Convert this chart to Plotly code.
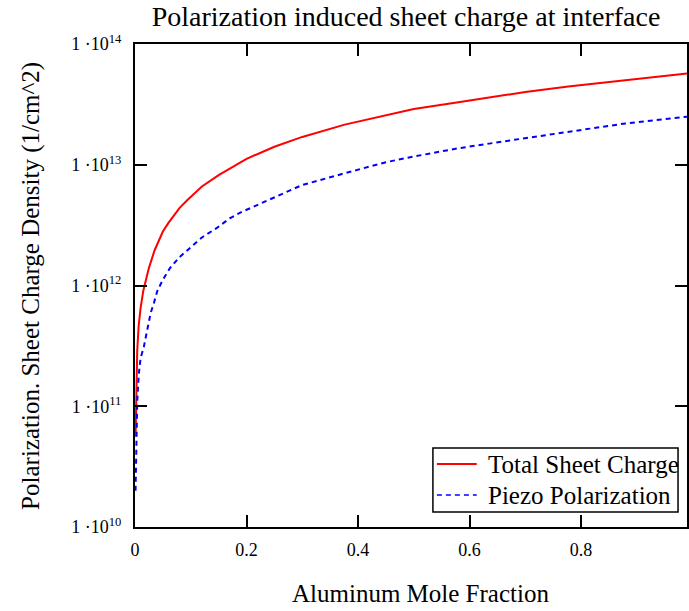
import plotly.graph_objects as go

# Aluminum mole fraction sample points and sheet charge densities (1/cm^2)
x_total = [0.001, 0.002, 0.004, 0.0065, 0.01, 0.015, 0.025, 0.035, 0.05, 0.06,
           0.07, 0.08, 0.094, 0.12, 0.15, 0.17, 0.2, 0.25, 0.3, 0.376,
           0.45, 0.5, 0.58, 0.65, 0.7, 0.777, 0.88, 0.99]
total_charge = [5.6e10, 1.1e11, 2.9e11, 4.6e11, 6.5e11, 9.1e11, 1.4e12, 1.95e12, 2.8e12, 3.3e12,
                3.8e12, 4.4e12, 5.1e12, 6.6e12, 8.2e12, 9.3e12, 1.12e13, 1.41e13, 1.7e13, 2.15e13,
                2.58e13, 2.9e13, 3.3e13, 3.7e13, 4.0e13, 4.45e13, 5.05e13, 5.7e13]

x_piezo = [0.001, 0.002, 0.004, 0.0068, 0.01, 0.0158, 0.028, 0.034, 0.04, 0.05,
           0.063, 0.08, 0.099, 0.12, 0.147, 0.17, 0.188, 0.25, 0.3, 0.376,
           0.45, 0.5, 0.58, 0.677, 0.777, 0.88, 0.99]
piezo_charge = [2.0e10, 5.2e10, 1.1e11, 1.85e11, 2.5e11, 3.1e11, 5.9e11, 7.2e11, 9.0e11, 1.12e12,
                1.4e12, 1.72e12, 2.05e12, 2.5e12, 3.0e12, 3.6e12, 4.0e12, 5.4e12, 6.8e12, 8.5e12,
                1.05e13, 1.17e13, 1.37e13, 1.6e13, 1.88e13, 2.2e13, 2.5e13]

x_ticks = [0, 0.2, 0.4, 0.6, 0.8]
x_tick_text = ["0", "0.2", "0.4", "0.6", "0.8"]
y_ticks = [1e10, 1e11, 1e12, 1e13, 1e14]
y_tick_text = ["1 \u00b710<sup>10</sup>", "1 \u00b710<sup>11</sup>", "1 \u00b710<sup>12</sup>",
               "1 \u00b710<sup>13</sup>", "1 \u00b710<sup>14</sup>"]
series_names = ["Total Sheet Charge", "Piezo Polarization"]
series_colors = ["#ff0000", "#0000ff"]
series_dashes = ["solid", "5px,4px"]

FONT = "Liberation Serif, Times New Roman, serif"

# plot-area geometry in pixels
W, H = 689, 611
L, R, T, B = 135, 0, 44, 84
PW, PH = W - L - R, H - T - B


def px(xpix):
    """Horizontal pixel -> paper coordinate."""
    return (xpix - L) / PW


def py(ypix):
    """Vertical pixel (from top) -> paper coordinate."""
    return (H - B - ypix) / PH


fig = go.Figure()
fig.add_trace(go.Scatter(
    x=x_total, y=total_charge, mode="lines", name=series_names[0], showlegend=False,
    line=dict(color=series_colors[0], width=2, dash=series_dashes[0]),
))
fig.add_trace(go.Scatter(
    x=x_piezo, y=piezo_charge, mode="lines", name=series_names[1], showlegend=False,
    line=dict(color=series_colors[1], width=2, dash=series_dashes[1]),
))

axis_common = dict(
    showline=True, linecolor="black", linewidth=2, mirror="ticks",
    ticks="inside", ticklen=12, tickwidth=1.5, tickcolor="black",
    showgrid=False, zeroline=False,
    tickfont=dict(family=FONT, size=18, color="black"),
)

# boxed legend
shapes = [dict(type="rect", xref="paper", yref="paper",
               x0=px(434), x1=px(680), y0=py(512), y1=py(448),
               line=dict(color="black", width=1.5), fillcolor="white", layer="above")]
annotations = []
for i, (name, color, dash) in enumerate(zip(series_names, series_colors, series_dashes)):
    yrow = 464 + 31 * i
    shapes.append(dict(type="line", xref="paper", yref="paper",
                       x0=px(438), x1=px(478), y0=py(yrow), y1=py(yrow),
                       line=dict(color=color, width=2 if i == 0 else 1.5, dash=dash),
                       layer="above"))
    annotations.append(dict(text=name, xref="paper", yref="paper",
                            x=px(487), y=py(yrow), xanchor="left", yanchor="middle",
                            showarrow=False, font=dict(family=FONT, size=25, color="black")))

annotations += [
    dict(text="Aluminum Mole Fraction", xref="paper", yref="paper",
         x=px(422), y=py(593), xanchor="center", yanchor="middle",
         showarrow=False, font=dict(family=FONT, size=25, color="black")),
    dict(text="Polarization. Sheet Charge Density (1/cm^2)", xref="paper", yref="paper",
         x=px(30), y=0.5, xanchor="center", yanchor="middle", textangle=-90,
         showarrow=False, font=dict(family=FONT, size=25, color="black")),
]

fig.update_layout(
    width=W, height=H,
    margin=dict(l=L, r=R, t=T, b=B),
    paper_bgcolor="white", plot_bgcolor="white",
    font=dict(family=FONT, color="black"),
    title=dict(
        text="Polarization induced sheet charge at interface",
        font=dict(family=FONT, size=28, color="black"),
        x=px(407), xanchor="center", xref="paper",
        y=1 - 16 / H, yanchor="middle", yref="container",
    ),
    xaxis=dict(range=[0, 0.99], tickvals=x_ticks, ticktext=x_tick_text,
               ticklabelstandoff=5, **axis_common),
    yaxis=dict(type="log", range=[10, 14], tickvals=y_ticks, ticktext=y_tick_text,
               ticklabelstandoff=8, **axis_common),
    showlegend=False,
    shapes=shapes,
    annotations=annotations,
)

fig.write_html("out.html")
